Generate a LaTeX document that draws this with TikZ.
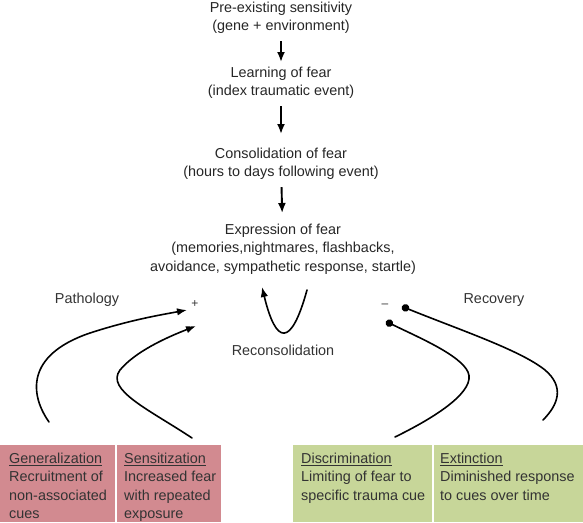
\documentclass[tikz,border=0pt]{standalone}
\usepackage{fontspec}
\setmainfont{Liberation Sans}
\usetikzlibrary{arrows,arrows.meta,positioning}

\definecolor{pathred}{RGB}{210,138,144}
\definecolor{recgreen}{RGB}{199,214,153}

\begin{document}
\begin{tikzpicture}[
      x=1pt, y=-1pt,%
      every node/.style={font=\fontsize{14.4}{18.3}\selectfont},%
      stage/.style={align=center, inner sep=0pt, anchor=north, text=black!85},%
      side/.style={inner sep=0pt, anchor=base, text=black!80},%
      cell/.style={anchor=north west, inner sep=0pt, minimum height=77pt},%
      celltext/.style={anchor=north west, align=left, inner sep=0pt, text=black!80},%
      flow/.style={line width=1.9pt, -{Latex[length=10pt,width=8pt]}},%
      curve/.style={line width=1.6pt, line cap=round},%
      tip/.style={-{Latex[length=10pt,width=7.5pt]}},%
      dot/.style={{Circle[length=7.5pt]}-}%
    ]
    \useasboundingbox (0,0) rectangle (583,522);

    %% Stages of fear
    \node[stage] (pre)    at (281,2)   {Pre-existing sensitivity\\(gene + environment)};
    \node[stage] (learn)  at (281,67)  {Learning of fear\\(index traumatic event)};
    \node[stage] (consol) at (281,148) {Consolidation of fear\\(hours to days following event)};
    \node[stage] (expr)   at (283,224) {Expression of fear\\(memories,nightmares, flashbacks,\\avoidance, sympathetic response, startle)};

    \draw[flow, shorten <=7pt, shorten >=5pt]  (pre)    -- (learn);
    \draw[flow, shorten <=7pt, shorten >=14pt] (learn)  -- (consol);
    \draw[flow, shorten <=7pt, shorten >=11pt] (consol) -- (expr);

    %% Side labels
    \node[side] (patho)   at (87,303)  {Pathology};
    \node[side] (recov)   at (494,303) {Recovery};
    \node[side, font=\fontsize{12}{14}\selectfont] (plus)  at (195,307) {+};
    \node[side, font=\fontsize{12}{14}\selectfont] (minus) at (385,307) {\textendash};
    \node[side] (recons)  at (283,355) {Reconsolidation};

    %% Curve ends
    \coordinate (genfoot)  at (49,422);
    \coordinate (sensfoot) at (192,438);
    \coordinate (discfoot) at (395,437);
    \coordinate (extfoot)  at (543,420);
    \coordinate (genhead)  at (187,310);
    \coordinate (senshead) at (196,326);
    \coordinate (exthead)  at (402,306.5);
    \coordinate (dischead) at (386,321.5);
    \coordinate (uright)   at (307,290);
    \coordinate (uleft)    at (262,287);

    %% Reconsolidation loop
    \draw[curve, tip] (uright) .. controls (291,348) and (276,345) .. (uleft);

    %% Pathology arrows
    \draw[curve, tip] (genfoot) .. controls (30,395) and (25,355) .. (90,333)
                                .. controls (130,320) and (160,315) .. (genhead);
    \draw[curve, tip] (sensfoot) .. controls (150,410) and (105,390) .. (120,370)
                                 .. controls (135,352) and (165,338) .. (senshead);

    %% Recovery lines
    \draw[curve, dot] (exthead) .. controls (460,330) and (520,350) .. (545,370)
                                .. controls (565,387) and (558,405) .. (extfoot);
    \draw[curve, dot] (dischead) .. controls (420,338) and (460,355) .. (468,372)
                                 .. controls (476,390) and (440,415) .. (discfoot);

    %% Boxes
    \node[cell, fill=pathred,  minimum width=115pt] (gen)   at (0,445)   {};
    \node[cell, fill=pathred,  minimum width=104pt] (sens)  at (117,445) {};
    \node[cell, fill=recgreen, minimum width=139pt] (discr) at (293,445) {};
    \node[cell, fill=recgreen, minimum width=149pt] (ext)   at (434,445) {};

    \node[celltext] (gentext)   at ([shift={(9,8)}]gen.north west)
      {\underline{Generalization}\\Recruitment of\\non-associated\\cues};
    \node[celltext] (senstext)  at ([shift={(7,8)}]sens.north west)
      {\underline{Sensitization}\\Increased fear\\with repeated\\exposure};
    \node[celltext] (discrtext) at ([shift={(8,8)}]discr.north west)
      {\underline{Discrimination}\\Limiting of fear to\\specific trauma cue};
    \node[celltext] (exttext)   at ([shift={(6,8)}]ext.north west)
      {\underline{Extinction}\\Diminished response\\to cues over time};
  \end{tikzpicture}
\end{document}
